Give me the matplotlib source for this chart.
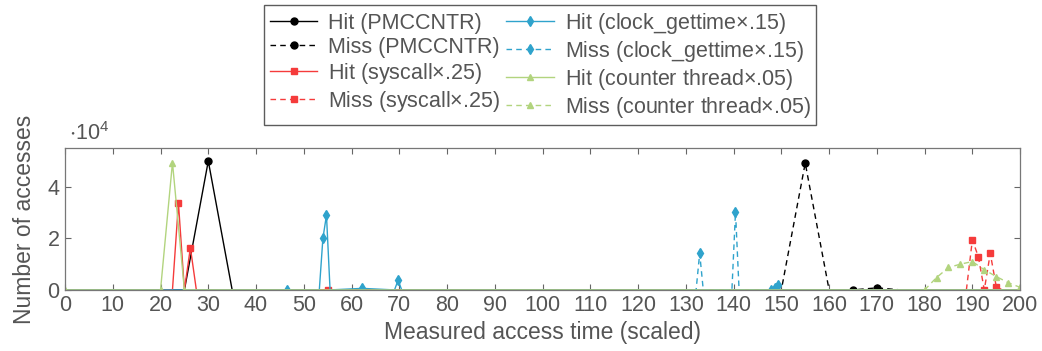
import matplotlib
matplotlib.use("Agg")
import matplotlib.pyplot as plt

plt.rcParams['font.family'] = ['Liberation Sans', 'DejaVu Sans']
plt.rcParams['mathtext.default'] = 'regular'

# ---------------- data ----------------
pmc_hit_x = [0, 25, 30, 35, 200]
pmc_hit_y = [0, 0, 50000, 0, 0]
pmc_miss_x = [145, 150, 155, 160, 165, 170, 175]
pmc_miss_y = [0, 0, 49200, 0, 0, 800, 0]

sys_hit_x = [0, 22.5, 23.75, 25, 26.25, 27.5, 55, 200]
sys_hit_y = [0, 0, 33700, 0, 16400, 0, 0, 0]
sys_miss_x = [188.75, 190, 191.25, 192.5, 193.75, 195, 196.25]
sys_miss_y = [0, 19400, 12900, 0, 14200, 1300, 0]

clk_hit_x = [0, 46.5, 53.25, 54.0, 54.75, 55.5, 62.25, 69.0, 69.75, 70.5, 200]
clk_hit_y = [0, 0, 0, 20000, 29000, 0, 600, 0, 3800, 0, 0]
clk_miss_x = [131.4, 132.15, 132.9, 133.65, 139.65, 140.4, 141.15, 147.9, 148.65, 149.4, 150.15]
clk_miss_y = [0, 0, 14200, 0, 0, 30300, 0, 0, 700, 1900, 0]

cnt_hit_x = [0, 20, 22.5, 25, 200]
cnt_hit_y = [0, 0, 49400, 0, 0]
cnt_miss_x = [180, 182.5, 185, 187.5, 190, 192.5, 195, 197.5, 200]
cnt_miss_y = [0, 4800, 8700, 10000, 11000, 7800, 5200, 2800, 1000]

labels = ['Hit (PMCCNTR)', 'Miss (PMCCNTR)',
          'Hit (syscall$\\times$.25)', 'Miss (syscall$\\times$.25)',
          'Hit (clock_gettime$\\times$.15)', 'Miss (clock_gettime$\\times$.15)',
          'Hit (counter thread$\\times$.05)', 'Miss (counter thread$\\times$.05)']

xticks = list(range(0, 201, 10))
yticks = [0, 20000, 40000]
ytick_labels = ['0', '2', '4']

# ---------------- style ----------------
BLACK = '#000000'
RED = '#f53b3b'
BLUE = '#2fa3cc'
GREEN = '#b2d47e'
TXT = '#555555'

fig = plt.figure(figsize=(10.42, 3.51), dpi=100)
ax = fig.add_axes([0.0624, 0.174, 0.9166, 0.404])

lw = 1.0
h = []
h += ax.plot(pmc_hit_x, pmc_hit_y, '-', color=BLACK, lw=lw, marker='o', ms=5, markevery=[2])
h += ax.plot(pmc_miss_x, pmc_miss_y, '--', color=BLACK, lw=lw, marker='o', ms=5, markevery=[2, 4, 5], dashes=(4, 3))
h += ax.plot(sys_hit_x, sys_hit_y, '-', color=RED, lw=lw, marker='s', ms=5, markevery=[2, 4, 6])
h += ax.plot(sys_miss_x, sys_miss_y, '--', color=RED, lw=lw, marker='s', ms=5, markevery=[1, 2, 3, 4, 5], dashes=(4, 3))
h += ax.plot(clk_hit_x, clk_hit_y, '-', color=BLUE, lw=lw, marker='d', ms=5.5, markevery=[1, 3, 4, 6, 8])
h += ax.plot(clk_miss_x, clk_miss_y, '--', color=BLUE, lw=lw, marker='d', ms=5.5, markevery=[2, 5, 7, 8, 9], dashes=(4, 3))
h += ax.plot(cnt_hit_x, cnt_hit_y, '-', color=GREEN, lw=lw, marker='^', ms=5, markevery=[0, 1, 2, 3])
h += ax.plot(cnt_miss_x, cnt_miss_y, '--', color=GREEN, lw=lw, marker='^', ms=5, markevery=list(range(9)), dashes=(4, 3))

ax.set_xlim(0, 200)
ax.set_ylim(0, 55000)
ax.set_xticks(xticks)
ax.set_yticks(yticks)
ax.set_yticklabels(ytick_labels)
ax.tick_params(direction='in', length=4, width=0.8, colors='#666666', labelcolor=TXT,
               labelsize=15.5, top=True, right=True, pad=4)
for s in ax.spines.values():
    s.set_color('#777777')
    s.set_linewidth(0.9)

ax.set_xlabel('Measured access time (scaled)', fontsize=16.5, color=TXT, labelpad=3)
ax.set_ylabel('Number of accesses', fontsize=16.5, color=TXT, labelpad=8)
ax.text(0.004, 1.02, '$\\cdot10^4$', transform=ax.transAxes, fontsize=15.5, color=TXT,
        ha='left', va='bottom')

leg = fig.legend(h, labels, ncol=2, loc='upper center', bbox_to_anchor=(0.5185, 0.985),
                 borderaxespad=0.0,
                 fontsize=15.5, frameon=True, fancybox=False, edgecolor='#333333',
                 handlelength=2.2, handletextpad=0.5, columnspacing=0.3,
                 labelspacing=0.14, borderpad=0.25, labelcolor=TXT)
leg.get_frame().set_linewidth(1.0)

fig.savefig('out.png', dpi=100)
